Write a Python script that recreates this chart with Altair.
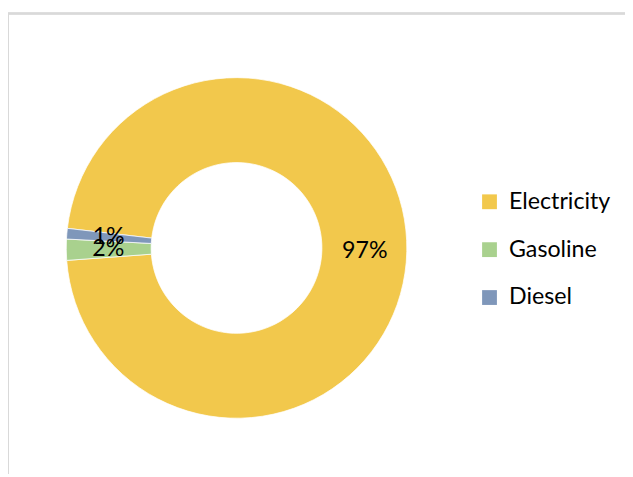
import math
import altair as alt
import pandas as pd

categories = ["Electricity", "Gasoline", "Diesel"]
values = [97, 2, 1]
labels = ["97%", "2%", "1%"]
colors = ["#F2C84C", "#A9D18E", "#7F97BA"]

df = pd.DataFrame({
    "category": categories,
    "value": values,
    "label": labels,
    "order": list(range(len(categories))),
})

start = 2 * math.pi - math.radians(83.4)
theta_scale = alt.Scale(range=[start, start + 2 * math.pi])
FONT = "Lato"
W, H = 625, 469
CX, CY = 231.5, 240

base = alt.Chart(df)

arc = base.mark_arc(innerRadius=86.5, outerRadius=172.5, stroke="white", strokeWidth=0.75).encode(
    theta=alt.Theta("value:Q", stack=True, scale=theta_scale),
    color=alt.Color(
        "category:N",
        sort=categories,
        scale=alt.Scale(domain=categories, range=colors),
        legend=alt.Legend(
            title=None,
            orient="none",
            legendX=476,
            legendY=181.5,
            symbolType="square",
            symbolSize=225,
            symbolStrokeWidth=0,
            labelFontSize=23.5,
            labelFont=FONT,
            labelColor="black",
            labelOffset=8,
            rowPadding=23.5,
        ),
    ),
    order=alt.Order("order:Q"),
    x=alt.value(CX),
    y=alt.value(CY),
)

text = base.mark_text(radius=130, fontSize=23.5, font=FONT, color="black").encode(
    theta=alt.Theta("value:Q", stack=True, scale=theta_scale),
    detail="category:N",
    order=alt.Order("order:Q"),
    text="label:N",
    x=alt.value(CX),
    y=alt.value(CY),
)

frame_left = base.mark_rule(color="#D9D9D9", strokeWidth=2).encode(
    x=alt.value(0), y=alt.value(2), y2=alt.value(H)
)
frame_top = base.mark_rule(color="#D9D9D9", strokeWidth=2).encode(
    x=alt.value(0), x2=alt.value(W), y=alt.value(2.5)
)

chart = alt.layer(frame_left, frame_top, arc, text).properties(
    width=W,
    height=H,
    autosize=alt.AutoSizeParams(type="none"),
    padding=0,
).configure_view(stroke=None)

chart.save("out.html", embed_options={"renderer": "svg", "actions": False})
